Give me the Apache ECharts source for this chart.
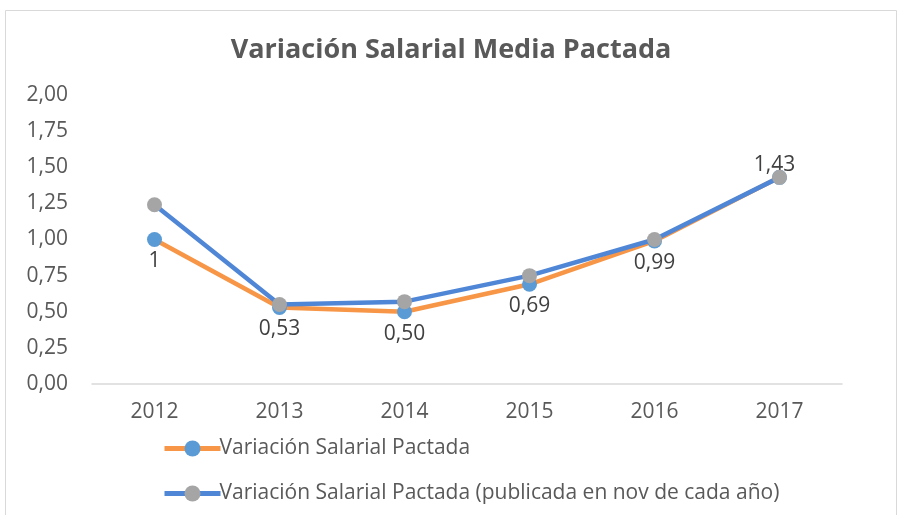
<!DOCTYPE html>
<html>
<head>
<meta charset="utf-8">
<script src="https://cdn.jsdelivr.net/npm/echarts@6/dist/echarts.min.js"></script>
<style>
  html, body { margin: 0; padding: 0; background: #fff; }
  #chart { width: 902px; height: 515px; }
</style>
</head>
<body>
<div id="chart"></div>
<script>
  // data
  var years = ['2012', '2013', '2014', '2015', '2016', '2017'];
  var pactada = [1, 0.53, 0.50, 0.69, 0.99, 1.43];
  var pactadaLabels = ['1', '0,53', '0,50', '0,69', '0,99', '1,43'];
  var publicada = [1.24, 0.55, 0.57, 0.75, 1.00, 1.43];
  var yTicks = [0, 0.25, 0.5, 0.75, 1, 1.25, 1.5, 1.75, 2];

  var FONT = '"Open Sans", sans-serif';
  var chart = echarts.init(document.getElementById('chart'));

  chart.setOption({
    animation: false,
    textStyle: { fontFamily: FONT },
    title: {
      text: 'Variación Salarial Media Pactada',
      left: 'center',
      top: 32,
      textStyle: { fontSize: 27, fontWeight: 'bold', color: '#595959', fontFamily: FONT }
    },
    graphic: [{
      type: 'rect',
      shape: { x: 5.5, y: 10.5, width: 891, height: 520 },
      style: { fill: 'none', stroke: '#d9d9d9', lineWidth: 1 },
      silent: true
    }],
    legend: {
      orient: 'vertical',
      left: 157,
      top: 433,
      itemGap: 24,
      itemWidth: 56,
      itemHeight: 20,
      lineStyle: { width: 5 },
      textStyle: { fontSize: 21, color: '#595959', fontFamily: FONT, padding: [0, 0, 0, -6] },
      data: ['Variación Salarial Pactada', 'Variación Salarial Pactada (publicada en nov de cada año)']
    },
    grid: { left: 92, right: 60, top: 95, bottom: 131 },
    xAxis: {
      type: 'category',
      data: years,
      boundaryGap: true,
      axisLine: { lineStyle: { color: '#d9d9d9', width: 1.5 } },
      axisTick: { show: false },
      axisLabel: { fontSize: 21, color: '#595959', margin: 18 }
    },
    yAxis: {
      type: 'value',
      min: yTicks[0],
      max: yTicks[yTicks.length - 1],
      interval: 0.25,
      splitLine: { show: false },
      axisLine: { show: false },
      axisTick: { show: false },
      axisLabel: {
        fontSize: 21,
        color: '#595959',
        margin: 24,
        formatter: function (v) { return v.toFixed(2).replace('.', ','); }
      }
    },
    series: [
      {
        name: 'Variación Salarial Pactada',
        type: 'line',
        data: pactada,
        symbol: 'circle',
        symbolSize: 15,
        lineStyle: { color: '#f79646', width: 4.5 },
        itemStyle: { color: '#5b9bd5' },
        z: 2,
        label: {
          show: true,
          position: 'bottom',
          distance: 4,
          fontSize: 21,
          color: '#404040',
          formatter: function (p) { return pactadaLabels[p.dataIndex]; }
        },
        labelLayout: function (p) {
          if (p.dataIndex === pactada.length - 1) {
            return { dx: -5, dy: -34 };
          }
          return {};
        }
      },
      {
        name: 'Variación Salarial Pactada (publicada en nov de cada año)',
        type: 'line',
        data: publicada,
        symbol: 'circle',
        symbolSize: 15,
        lineStyle: { color: '#4f86d6', width: 4.5 },
        itemStyle: { color: '#a5a5a5' },
        z: 3
      }
    ]
  });
</script>
</body>
</html>
